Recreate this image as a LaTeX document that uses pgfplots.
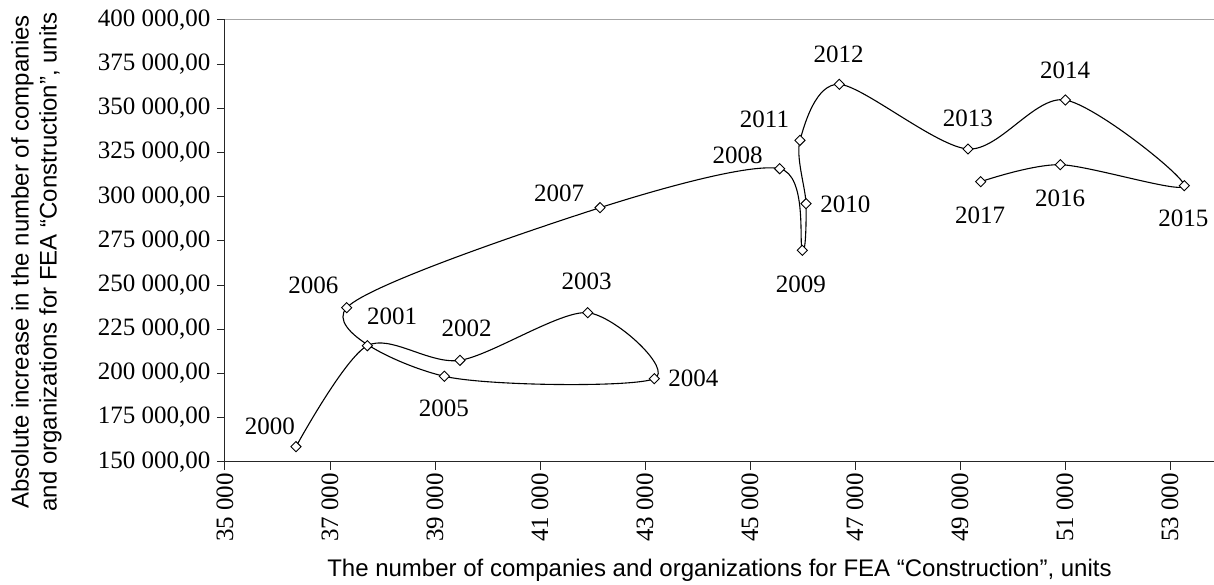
\documentclass[border=0pt]{standalone}
\usepackage{fontspec}
\setmainfont{Liberation Serif}
\setsansfont{Liberation Sans}
\usepackage{pgfplots}
\pgfplotsset{compat=1.18}
\usepackage{pgfplotstable}

\pgfplotstableread{
x y
36352 158490
37711 215656
39476 207392
41908 234333
43177 196978
39178 198336
37318 237163
42143 293763
45565 315836
45996 269652
46067 296027
45952 331911
46701 363607
49152 326986
51006 354720
53272 306214
50910 318101
49394 308478
}\datatable

\pgfplotstableread{
x y label
35857 169810 2000
38181 232466 2001
39604 225278 2002
41886 251879 2003
43920 197204 2004
39171 180224 2005
36682 250011 2006
41362 301913 2007
44766 323591 2008
45971 250577 2009
46815 295857 2010
45276 343966 2011
46690 380756 2012
49149 344363 2013
51000 371700 2014
53253 287933 2015
50905 299253 2016
49381 289631 2017
}\labeltable

\begin{document}
\begin{tikzpicture}[font=\fontsize{25}{29}\selectfont]
\begin{axis}[
  name=ax,
  scale only axis,
  width=989pt, height=441.7pt,
  xmin=35000, xmax=53838,
  ymin=150000, ymax=400000,
  axis x line*=bottom, axis y line*=left,
  axis line style={line width=1pt, black!85},
  xtick={35000,37000,...,53000},
  ytick={150000,175000,...,400000},
  tick align=outside,
  major tick length=8pt,
  tick style={black!85, line width=1pt},
  scaled ticks=false,
  yticklabel shift=3pt,
  xticklabel style={rotate=90, anchor=east, font=\fontsize{25}{29}\selectfont,
    /pgf/number format/.cd, fixed, precision=0, 1000 sep={\ }, assume math mode=true},
  yticklabel style={font=\fontsize{25}{29}\selectfont,
    /pgf/number format/.cd, fixed, fixed zerofill, precision=2, use comma, 1000 sep={\ }, assume math mode=true},
  xlabel={The number of companies and organizations for FEA “Construction”, units},
  xlabel style={font=\sffamily\fontsize{24}{28}\selectfont, at={(axis description cs:0.5,-0.261)}, anchor=base},
  ylabel={Absolute increase in the number of companies\\and organizations for FEA “Construction”, units},
  ylabel style={font=\sffamily\fontsize{24}{28}\selectfont, align=center, rotate=0, at={(axis description cs:-0.1906,0.452)}, anchor=center},
  clip=false,
]
\draw[gray!70, line width=1pt] (rel axis cs:0,1) -- (rel axis cs:1,1);
\addplot[black, line width=1.1pt, smooth, tension=0.5,
  mark=square*, mark size=3.6pt,
  mark options={rotate=45, fill=white, line width=0.9pt, solid}]
  table[x=x, y=y] {\datatable};
\addplot[draw=none, mark=none, nodes near coords, point meta=explicit symbolic,
  nodes near coords align={center}, every node near coord/.append style={font=\fontsize{25}{29}\selectfont, inner sep=0pt}]
  table[x=x, y=y, meta=label] {\labeltable};
\end{axis}
\pgfresetboundingbox
\path ([shift={(-225pt,-123.3pt)}]ax.south west) rectangle ([shift={(0pt,20pt)}]ax.north east);
\end{tikzpicture}
\end{document}
